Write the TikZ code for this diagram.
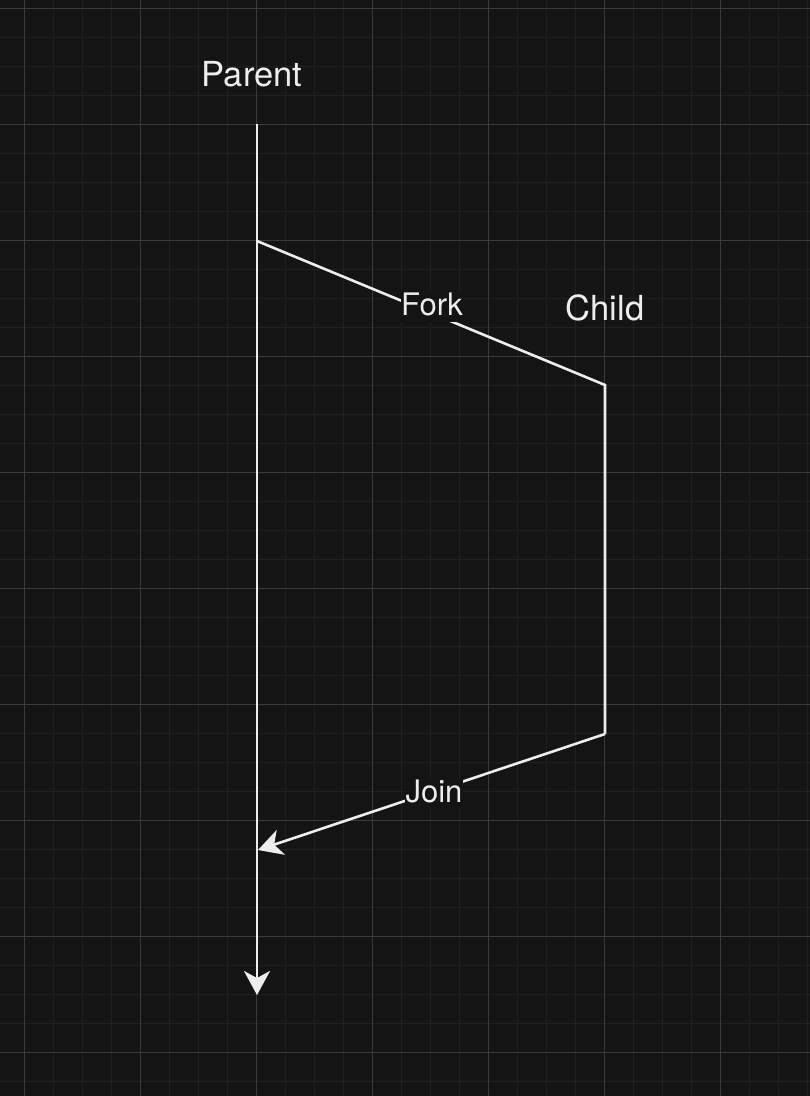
\documentclass[tikz,border=0pt]{standalone}
\usepackage{fontspec}
\setmainfont{TeX Gyre Heros}
\usetikzlibrary{arrows.meta}
\definecolor{bgc}{HTML}{141414}
\definecolor{minorc}{HTML}{202020}
\definecolor{majorc}{HTML}{3A3A3A}
\definecolor{inkc}{HTML}{EDEDED}
\tikzset{
  flow/.style={draw=inkc, line width=2.6pt},
  flowarrow/.style={flow, -{Stealth[length=24pt, width=26pt, inset=7pt]}},
  title/.style={text=inkc, font=\fontsize{34.5}{40}\selectfont, anchor=base, inner sep=0pt},
  lbl/.style={text=inkc, fill=bgc, font=\fontsize{31}{36}\selectfont, anchor=base,
    inner xsep=0.5pt, inner ysep=1.5pt, text depth=5pt},
}
\begin{document}
\begin{tikzpicture}[x=1pt,y=-1pt]
\fill[bgc] (0,0) rectangle (810,1096);
\useasboundingbox (0,0) rectangle (810,1096);
% grid
\foreach \i in {0,...,27} {
  \draw[minorc, line width=1pt] ({24.5+29*\i},0) -- ({24.5+29*\i},1096);
}
\foreach \j in {0,...,37} {
  \draw[minorc, line width=1pt] (0,{8+29*\j}) -- (810,{8+29*\j});
}
\foreach \i in {0,...,6} {
  \draw[majorc, line width=1pt] ({24.5+116*\i},0) -- ({24.5+116*\i},1096);
}
\foreach \j in {0,...,9} {
  \draw[majorc, line width=1pt] (0,{8+116*\j}) -- (810,{8+116*\j});
}
% points
\coordinate (ptop) at (257,124);
\coordinate (pfork) at (257,241);
\coordinate (cstart) at (605,385);
\coordinate (cend) at (605,734);
\coordinate (pjoin) at (258,850);
\coordinate (pend) at (257,995);
% lines
\draw[flowarrow] (ptop) -- (pend);
\draw[flow] (pfork) -- (cstart) -- (cend);
\draw[flowarrow] (cend) -- (pjoin);
% labels
\node[title] (parent) at (252,86) {Parent};
\node[title] (child) at (605,320) {Child};
\node[lbl] (fork) at (432,315.5) {Fork};
\node[lbl] (join) at (434,802) {Join};
\end{tikzpicture}
\end{document}
